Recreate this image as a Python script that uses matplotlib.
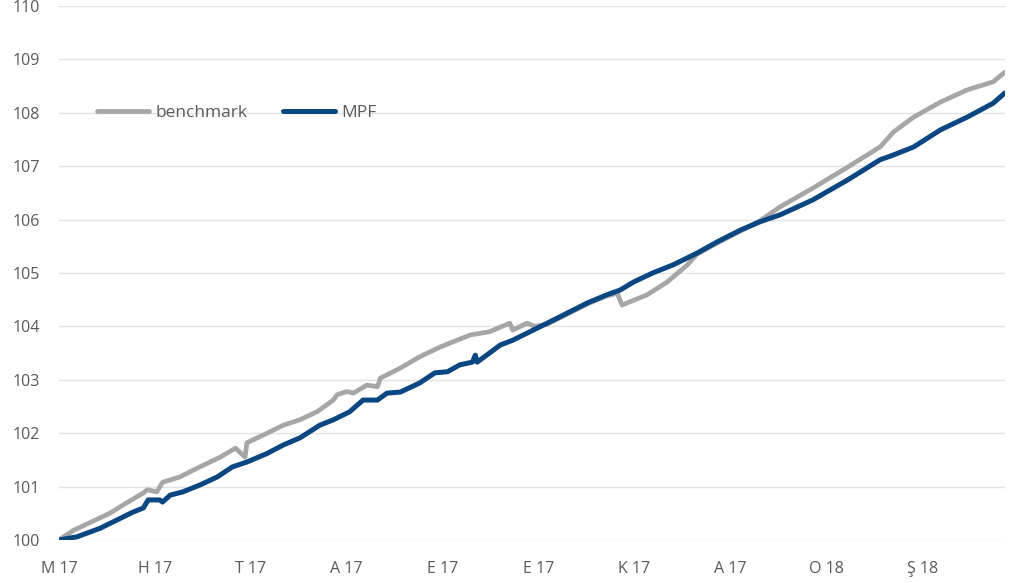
import matplotlib.pyplot as plt

plt.rcParams['font.family'] = ['Open Sans', 'DejaVu Sans']

# ay cinsinden konum (0 = Mayis 2017) ve endeks degerleri
bench_x = [0.0, 0.15, 0.53, 0.71, 0.88, 0.92, 1.02, 1.08, 1.26, 1.47, 1.68, 1.84, 1.94, 1.96,
           2.17, 2.34, 2.51, 2.69, 2.86, 2.90, 3.00, 3.07, 3.21, 3.32, 3.35, 3.56, 3.76, 3.97,
           4.08, 4.29, 4.49, 4.70, 4.73, 4.88, 4.96, 5.09, 5.30, 5.51, 5.71, 5.82, 5.87, 6.13,
           6.34, 6.55, 6.65, 6.86, 7.10, 7.31, 7.52, 7.86, 8.22, 8.56, 8.70, 8.91, 9.19, 9.47,
           9.74, 9.86]
bench_y = [100.0, 100.18, 100.5, 100.7, 100.88, 100.94, 100.9, 101.08, 101.18, 101.37, 101.55,
           101.72, 101.55, 101.82, 102.0, 102.15, 102.25, 102.4, 102.62, 102.72, 102.78, 102.75,
           102.9, 102.87, 103.03, 103.22, 103.43, 103.61, 103.69, 103.84, 103.9, 104.06, 103.93,
           104.06, 104.0, 104.04, 104.23, 104.42, 104.57, 104.62, 104.4, 104.59, 104.83, 105.15,
           105.35, 105.56, 105.78, 105.98, 106.24, 106.59, 106.98, 107.36, 107.64, 107.92, 108.2,
           108.43, 108.58, 108.76]

mpf_x = [0.0, 0.19, 0.43, 0.60, 0.77, 0.88, 0.93, 1.05, 1.08, 1.16, 1.29, 1.47, 1.65, 1.81,
         1.96, 2.17, 2.34, 2.51, 2.72, 2.86, 3.03, 3.17, 3.32, 3.42, 3.56, 3.76, 3.92, 4.05,
         4.18, 4.31, 4.34, 4.36, 4.60, 4.73, 4.91, 5.09, 5.30, 5.51, 5.71, 5.85, 5.99, 6.19,
         6.40, 6.65, 6.86, 7.10, 7.31, 7.52, 7.86, 8.22, 8.56, 8.70, 8.91, 9.19, 9.47, 9.74,
         9.86]
mpf_y = [100.0, 100.06, 100.22, 100.37, 100.52, 100.6, 100.75, 100.75, 100.71, 100.84, 100.9,
         101.03, 101.18, 101.37, 101.46, 101.62, 101.78, 101.91, 102.15, 102.25, 102.4, 102.62,
         102.62, 102.75, 102.77, 102.94, 103.13, 103.15, 103.28, 103.33, 103.46, 103.33, 103.65,
         103.74, 103.9, 104.06, 104.25, 104.44, 104.59, 104.68, 104.83, 105.0, 105.15, 105.37,
         105.58, 105.8, 105.96, 106.09, 106.37, 106.74, 107.12, 107.21, 107.36, 107.68, 107.92,
         108.18, 108.37]

month_labels = ["M 17", "H 17", "T 17", "A 17", "E 17", "E 17", "K 17", "A 17", "O 18", "Ş 18"]
y_ticks = list(range(100, 111))

fig = plt.figure(figsize=(10.27, 5.83), dpi=100)
ax = fig.add_axes([0.0574, 0.0738, 0.921, 0.916])

ax.plot(bench_x, bench_y, color="#A6A6A6", lw=3.4, label="benchmark", solid_capstyle="round")
ax.plot(mpf_x, mpf_y, color="#0A4682", lw=3.6, label="MPF", solid_capstyle="round")

ax.set_xlim(0, 9.86)
ax.set_ylim(100, 110)
ax.set_yticks(y_ticks)
ax.set_xticks(range(len(month_labels)))
ax.set_xticklabels(month_labels)
ax.grid(axis="y", color="#E3E3E3", lw=1)
ax.set_axisbelow(True)
for s in ax.spines.values():
    s.set_visible(False)
ax.tick_params(length=0, labelsize=11.5, labelcolor="#595959")
ax.tick_params(axis="y", pad=14)
ax.tick_params(axis="x", pad=15)

ax.legend(loc="center left", bbox_to_anchor=(0.04, 0.8), ncol=2, frameon=False,
          fontsize=12.5, labelcolor="#595959", handlelength=3.0, handletextpad=0.4,
          columnspacing=2.0, borderpad=0, borderaxespad=0)

fig.savefig("out.png", dpi=100)
